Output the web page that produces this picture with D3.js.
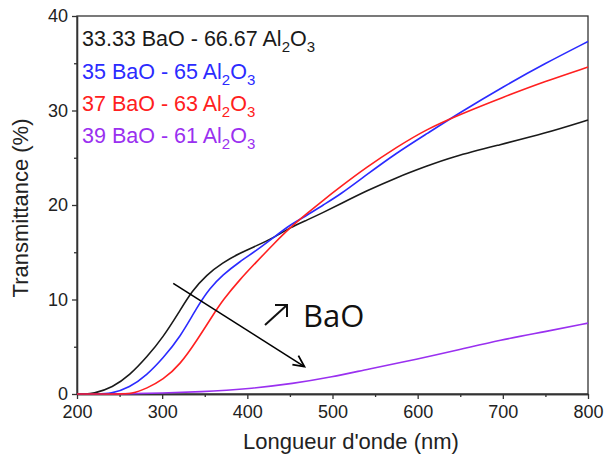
<!DOCTYPE html>
<html><head><meta charset="utf-8">
<script src="https://cdn.jsdelivr.net/npm/d3@7"></script>
<style>body{margin:0;background:#fff}svg{display:block}</style>
</head><body>
<svg id="c" width="605" height="462"></svg>
<script>
// Data (wavelength nm, transmittance %)
const wl_black = [200,210,218,242,262,282,301,320,335,352,371,391,411,430,450,470,489,509,540,575,610,641,693,750,800];
const tr_black = [0,0,0,0.7,2.0,3.9,6.0,8.7,10.9,12.6,13.9,14.9,15.7,16.5,17.6,18.4,19.2,20.1,21.5,22.9,24.1,25.1,26.3,27.6,29.0];
const wl_blue  = [200,225,239,262,282,301,321,341,356,371,391,411,430,450,470,489,509,540,575,610,650,700,750,800];
const tr_blue  = [0,0,0,0.7,2.0,3.8,6.0,9.2,11.2,12.6,14.0,15.2,16.5,17.9,18.9,20.0,21.1,23.2,25.5,27.5,29.8,32.5,35.0,37.3];
const wl_red   = [200,250,264,282,301,321,341,360,371,391,411,430,450,470,489,509,540,575,610,650,700,750,800];
const tr_red   = [0,0,0,0.6,1.5,3.1,5.7,8.4,9.9,12.1,14.0,15.8,17.6,19.1,20.5,21.9,24.0,26.1,28.0,29.6,31.4,33.1,34.6];
const wl_purp  = [200,250,300,350,376,400,454,500,540,600,650,696,750,800];
const tr_purp  = [0,0,0.1,0.25,0.4,0.55,1.1,1.8,2.6,3.7,4.7,5.7,6.6,7.5];
const seriesNames = ["33.33 BaO - 66.67 Al", "35 BaO - 65 Al", "37 BaO - 63 Al", "39 BaO - 61 Al"];
const seriesColors = ["#1a1a1a","#2b2bff","#ff2020","#9a30f0"];
const xTicks = [200,300,400,500,600,700,800];
const yTicks = [0,10,20,30,40];

const svg = d3.select("#c");
const x = d3.scaleLinear().domain([200,800]).range([77,588]);
const y = d3.scaleLinear().domain([0,40]).range([394,16]);
const axisColor = "#333";

// frame
svg.append("rect").attr("x",77).attr("y",16).attr("width",511).attr("height",378)
  .attr("fill","none").attr("stroke",axisColor).attr("stroke-width",1.3);

// x axis
const gx = svg.append("g").attr("transform","translate(0,394)");
gx.call(d3.axisBottom(x).tickValues(xTicks).tickSize(5).tickSizeOuter(0).tickFormat(d3.format("d")));
const gxm = svg.append("g").attr("transform","translate(0,394)");
gxm.call(d3.axisBottom(x).tickValues([250,350,450,550,650,750]).tickSize(3).tickSizeOuter(0).tickFormat(""));
// y axis
const gy = svg.append("g").attr("transform","translate(77,0)");
gy.call(d3.axisLeft(y).tickValues(yTicks).tickSize(5).tickSizeOuter(0));
const gym = svg.append("g").attr("transform","translate(77,0)");
gym.call(d3.axisLeft(y).tickValues([5,15,25,35]).tickSize(3).tickSizeOuter(0).tickFormat(""));
[gx,gxm,gy,gym].forEach(g=>{
  g.select(".domain").attr("stroke",axisColor).attr("stroke-width",1.3);
  g.selectAll("line").attr("stroke",axisColor).attr("stroke-width",1.3);
  g.selectAll("text").attr("font-family","Liberation Sans, Arial, sans-serif").attr("font-size",18).attr("fill","#222");
});
gx.selectAll("text").attr("dy","0.9em");
gy.selectAll("text").attr("dx","-0.05em");

// axis titles
svg.append("text").attr("x",351).attr("y",449).attr("text-anchor","middle")
  .attr("font-family","Liberation Sans, Arial, sans-serif").attr("font-size",22).attr("fill","#222")
  .text("Longueur d'onde (nm)");
svg.append("text").attr("transform","translate(28,208) rotate(-90)").attr("text-anchor","middle")
  .attr("font-family","Liberation Sans, Arial, sans-serif").attr("font-size",22).attr("fill","#222")
  .text("Transmittance (%)");

// lines
const line = d3.line().x(d=>x(d[0])).y(d=>y(d[1])).curve(d3.curveBasis);
const all = [[wl_black,tr_black],[wl_blue,tr_blue],[wl_red,tr_red],[wl_purp,tr_purp]];
const order = [3,0,1,2];
order.forEach(i=>{
  const [w,t] = all[i];
  svg.append("path").datum(w.map((v,j)=>[v,t[j]])).attr("d",line)
    .attr("fill","none").attr("stroke",seriesColors[i]).attr("stroke-width",1.6);
});

// legend
const ly = [46,79,111,143];
seriesNames.forEach((n,i)=>{
  const t = svg.append("text").attr("x",82).attr("y",ly[i])
    .attr("font-family","Liberation Sans, Arial, sans-serif").attr("font-size",21.5).attr("fill",seriesColors[i]);
  t.append("tspan").text(n);
  t.append("tspan").attr("font-size",15).attr("dy",6).text("2");
  t.append("tspan").attr("dy",-6).text("O");
  t.append("tspan").attr("font-size",15).attr("dy",6).text("3");
});

// arrow annotation
svg.append("line").attr("x1",x(313)).attr("y1",y(11.7)).attr("x2",x(467)).attr("y2",y(2.9))
  .attr("stroke","#000").attr("stroke-width",1.6);
svg.append("path").attr("d",`M${x(467)-12},${y(2.9)-2} L${x(467)},${y(2.9)} L${x(467)-6},${y(2.9)-11}`)
  .attr("fill","none").attr("stroke","#000").attr("stroke-width",1.8);
// small diagonal arrow glyph drawn next to BaO
const ax0 = 265, ay0 = 325, ax1 = 287, ay1 = 305;
svg.append("line").attr("x1",ax0).attr("y1",ay0).attr("x2",ax1).attr("y2",ay1).attr("stroke","#111").attr("stroke-width",2);
svg.append("path").attr("d",`M${ax1-12},${ay1} L${ax1},${ay1} L${ax1},${ay1+12}`)
  .attr("fill","none").attr("stroke","#111").attr("stroke-width",2);
svg.append("text").attr("x",303).attr("y",327).attr("font-family","Open Sans, sans-serif")
  .attr("font-size",31).attr("fill","#111").text("BaO");
</script>
</body></html>
